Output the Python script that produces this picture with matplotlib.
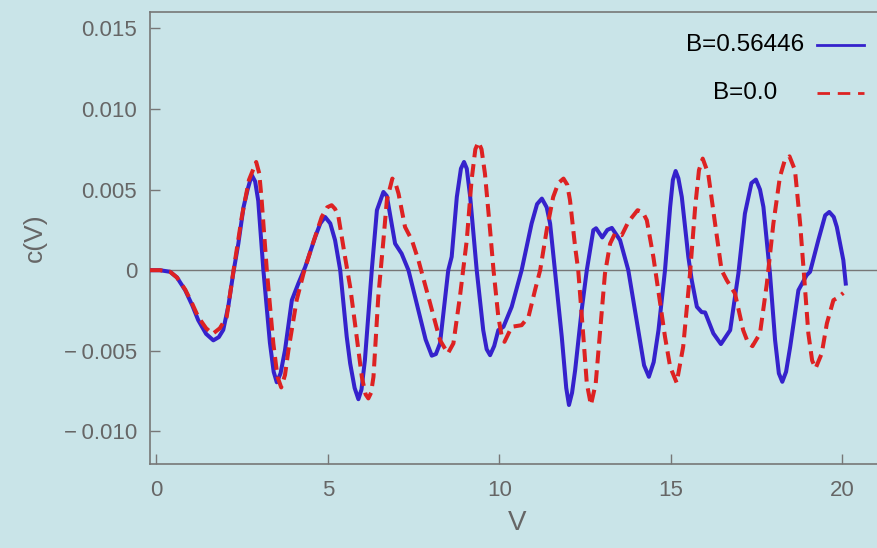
import numpy as np
import matplotlib
matplotlib.use("Agg")
import matplotlib.pyplot as plt
from matplotlib.lines import Line2D

plt.rcParams['font.family'] = ['Liberation Sans', 'DejaVu Sans']

# c values are in units of 1e-3
blue_v = [-0.2, 0.1, 0.4, 0.6, 0.84, 1.05, 1.22, 1.45, 1.66, 1.82, 1.95, 2.1, 2.24, 2.39, 2.54, 2.66,
          2.78, 2.88, 2.97, 3.12, 3.31, 3.42, 3.51, 3.62, 3.75, 3.95, 4.14, 4.34, 4.63, 4.78, 4.92,
          5.07, 5.21, 5.36, 5.55, 5.65, 5.78, 5.89, 5.98, 6.08, 6.28, 6.43, 6.62, 6.72, 6.81, 6.96,
          7.15, 7.35, 7.64, 7.85, 8.03, 8.15, 8.27, 8.51, 8.61, 8.76, 8.88, 8.97, 9.05, 9.15, 9.34,
          9.53, 9.63, 9.73, 9.85, 9.97, 10.12, 10.36, 10.65, 10.94, 11.1, 11.24, 11.38, 11.48,
          11.62, 11.82, 11.95, 12.03, 12.12, 12.21, 12.40, 12.55, 12.74, 12.82, 13.0, 13.15, 13.28,
          13.52, 13.76, 14.05, 14.22, 14.36, 14.5, 14.64, 14.83, 14.98, 15.06, 15.14, 15.22, 15.32,
          15.51, 15.61, 15.76, 15.9, 16.0, 16.24, 16.46, 16.73, 16.97, 17.16, 17.35, 17.48, 17.6,
          17.70, 17.89, 18.04, 18.15, 18.25, 18.36, 18.48, 18.72, 18.96, 19.06, 19.30, 19.5, 19.62,
          19.75, 19.84, 20.03, 20.1]
blue_c = [0.0, 0.0, -0.1, -0.45, -1.24, -2.2, -3.1, -3.95, -4.35, -4.15, -3.7, -2.2, -0.2, 1.65,
          3.9, 5.0, 5.9, 5.5, 4.3, 0.0, -4.5, -6.3, -6.95, -6.4, -4.96, -1.86, -0.82, 0.2, 2.06, 2.9,
          3.3, 2.9, 1.86, 0.0, -4.13, -5.78, -7.3, -8.0, -7.4, -5.58, 0.0, 3.72, 4.85, 4.6, 3.5, 1.65,
          1.03, 0.0, -2.48, -4.3, -5.3, -5.2, -4.54, 0.0, 0.83, 4.54, 6.3, 6.71, 6.3, 4.54, 0.0,
          -3.72, -4.9, -5.27, -4.7, -3.72, -3.51, -2.27, 0.0, 2.89, 4.1, 4.44, 3.9, 2.89,
          0.0, -4.13, -7.3, -8.36, -7.6, -6.2, -2.48, 0.0, 2.48, 2.6, 2.03, 2.5, 2.62,
          1.86, 0.0, -3.72, -5.9, -6.61, -5.7, -3.72, 0.0, 3.92, 5.6, 6.15, 5.7, 4.54,
          0.83, -0.62, -2.27, -2.6, -2.62, -3.92, -4.58, -3.72, -0.2, 3.51, 5.4, 5.62, 5.0,
          3.92, -0.2, -4.34, -6.4, -6.92, -6.3, -4.75, -1.24, -0.31, -0.1, 1.86, 3.4, 3.61,
          3.3, 2.68, 0.62, -0.83]

red_v = [-0.2, 0.1, 0.4, 0.6, 0.84, 1.05, 1.22, 1.45, 1.64, 1.85, 2.05, 2.25, 2.49, 2.7, 2.91, 3.0,
         3.07, 3.22, 3.41, 3.53, 3.64, 3.75, 3.85, 4.09, 4.29, 4.53, 4.82, 4.98, 5.11, 5.21, 5.31,
         5.50, 5.65, 5.79, 5.99, 6.1, 6.18, 6.26, 6.33, 6.47, 6.62, 6.72, 6.88, 6.97, 7.06, 7.25,
         7.45, 7.64, 7.93, 8.27, 8.50, 8.66, 8.85, 9.05, 9.19, 9.3, 9.39, 9.48, 9.58, 9.73, 9.83,
         9.97, 10.07, 10.15, 10.25, 10.36, 10.65, 10.85, 11.04, 11.19, 11.38, 11.57, 11.72, 11.87,
         11.98, 12.06, 12.21, 12.30, 12.45, 12.55, 12.67, 12.81, 12.94, 13.08, 13.23, 13.37, 13.57,
         13.76, 14.03, 14.18, 14.30, 14.49, 14.69, 14.83, 14.98, 15.17, 15.36, 15.56, 15.71, 15.82,
         15.93, 16.09, 16.29, 16.48, 16.63, 16.87, 17.11, 17.25, 17.38, 17.60, 17.80, 17.99, 18.18,
         18.32, 18.46, 18.62, 18.77, 18.88, 19.01, 19.12, 19.22, 19.40, 19.55, 19.74, 19.88, 20.03]
red_c = [0.0, 0.0, -0.1, -0.45, -1.2, -2.1, -2.9, -3.6, -3.95, -3.6, -2.9, 0.0, 3.3, 5.6, 6.71, 6.0,
         4.34, 0.0, -4.54, -6.6, -7.27, -6.5, -4.96, -1.86, -0.2, 1.44, 3.3, 3.9, 4.03, 3.8, 3.3,
         0.83, -1.03, -3.3, -6.61, -7.7, -7.95, -7.6, -6.61, -1.65, 1.86, 4.34, 5.68, 5.4, 4.75, 2.68,
         1.86, 0.62, -1.65, -4.34, -5.16, -4.54, -1.65, 1.86, 5.58, 7.5, 7.95, 7.5, 5.99, 2.48, 0.0,
         -2.89, -4.1, -4.44, -4.0, -3.51, -3.41, -2.89, -1.24, 0.0, 2.48, 4.54, 5.4, 5.68,
         5.3, 4.34, 1.44, 0.0, -4.13, -7.02, -8.36, -7.02, -3.72, -0.2, 1.65, 2.27, 2.17,
         2.99, 3.72, 3.6, 3.1, 0.83, -2.07, -4.13, -5.99, -6.98, -4.75, -0.2, 3.92, 6.2,
         6.92, 5.99, 2.89, 0.0, -0.62, -1.44, -3.72, -4.5, -4.71, -3.92, -0.83, 2.89, 5.78,
         6.8, 7.06, 6.2, 2.89, -0.2, -3.92, -5.6, -6.09, -5.16, -3.3, -1.86, -1.69, -1.41]

labels = ["B=0.56446", "B=0.0"]
y_ticks = [-0.010, -0.005, 0, 0.005, 0.010, 0.015]
y_tick_labels = ["\u2212\u20090.010", "\u2212\u20090.005", "0", "0.005", "0.010", "0.015"]
x_ticks = [0, 5, 10, 15, 20]

bg = '#c9e4e8'
gray = '#777777'
blue = '#3522cc'
red = '#dd2222'

fig = plt.figure(figsize=(8.78, 5.48), dpi=100, facecolor=bg)
ax = fig.add_axes([0.1703, 0.1538, 0.8371, 0.8240])
ax.set_facecolor(bg)

ax.axhline(0, color=gray, lw=1.0, zorder=1)
ax.plot(blue_v, np.array(blue_c) * 1e-3, color=blue, lw=2.9, zorder=3,
        solid_joinstyle='round')
ax.plot(red_v, np.array(red_c) * 1e-3, color=red, lw=2.9, ls=(0, (3.2, 1.7)), zorder=4)

ax.set_xlim(-0.2, 21.23)
ax.set_ylim(-0.012, 0.016)
ax.set_xticks(x_ticks)
ax.set_yticks(y_ticks)
ax.set_yticklabels(y_tick_labels)

ax.spines['right'].set_visible(False)
for s in ['left', 'bottom', 'top']:
    ax.spines[s].set_color(gray)
    ax.spines[s].set_linewidth(1.2)

ax.tick_params(direction='in', length=7, width=1, color=gray, labelcolor='#666666',
               labelsize=16)
ax.tick_params(axis='x', pad=12)
ax.tick_params(axis='y', pad=9)

ax.set_xlabel("V", fontsize=20, color='#666666', labelpad=6)
ax.set_ylabel("c(V)", fontsize=19, color='#666666', labelpad=12)

# legend drawn by hand: centred label, sample line on the right
for i, (lab, col, ls) in enumerate(zip(labels, [blue, red], ['-', (0, (4.5, 2.8))])):
    y = 0.918 - i * 0.088
    fig.text(0.8485, y, lab, ha='center', va='center', fontsize=17.5, color='black')
    fig.add_artist(Line2D([0.9305, 0.984], [y, y], color=col, lw=2.0, ls=ls,
                          transform=fig.transFigure))

fig.savefig("out.png", dpi=100, facecolor=bg)
